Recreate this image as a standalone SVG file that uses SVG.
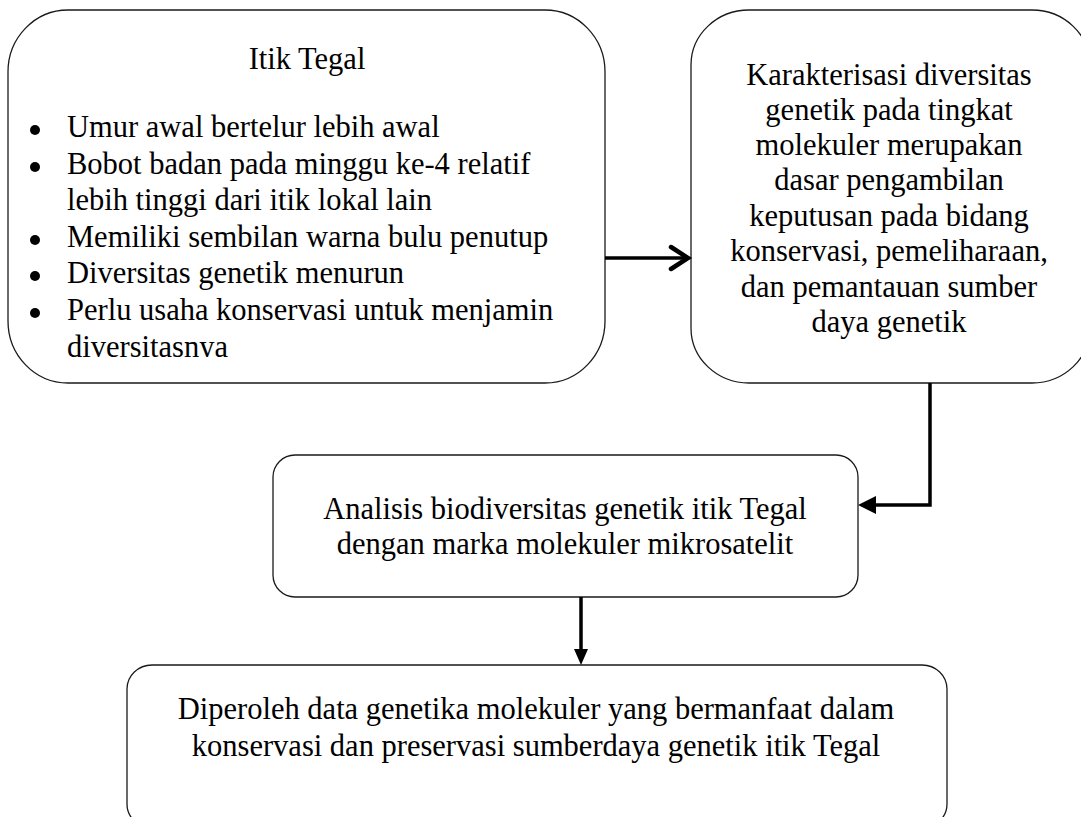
<svg xmlns="http://www.w3.org/2000/svg" width="1081" height="817" viewBox="0 0 1081 817">
<style>
.box{fill:#fff;stroke:#1a1a1a;stroke-width:1.3}
.t{font-family:"Liberation Serif","Times New Roman",serif;font-size:30.5px;fill:#000}
.c{text-anchor:middle}
.conn{fill:none;stroke:#000;stroke-width:3.5}
</style>
<defs>
<clipPath id="clip1"><rect x="8" y="10" width="597" height="347"/></clipPath>
</defs>
<g id="node-itik-tegal">
<rect class="box" x="8" y="10" width="597" height="373" rx="60" ry="62"/>
<g clip-path="url(#clip1)">
<text class="t c" x="307" y="69">Itik Tegal</text>
<g fill="#000">
<circle cx="35" cy="130" r="5"/>
<circle cx="35" cy="167" r="5"/>
<circle cx="35" cy="240" r="5"/>
<circle cx="35" cy="276" r="5"/>
<circle cx="35" cy="313" r="5"/>
</g>
<text class="t" x="67" y="137">Umur awal bertelur lebih awal</text>
<text class="t" x="67" y="174">Bobot badan pada minggu ke-4 relatif</text>
<text class="t" x="67" y="210">lebih tinggi dari itik lokal lain</text>
<text class="t" x="67" y="247">Memiliki sembilan warna bulu penutup</text>
<text class="t" x="67" y="283">Diversitas genetik menurun</text>
<text class="t" x="67" y="320">Perlu usaha konservasi untuk menjamin</text>
<text class="t" x="67" y="357">diversitasnya</text>
</g>
</g>
<g id="node-karakterisasi">
<rect class="box" x="691" y="10" width="399" height="373" rx="58" ry="55"/>
<text class="t c" x="889" y="85">Karakterisasi diversitas</text>
<text class="t c" x="889" y="120">genetik pada tingkat</text>
<text class="t c" x="889" y="155">molekuler merupakan</text>
<text class="t c" x="889" y="190">dasar pengambilan</text>
<text class="t c" x="889" y="226">keputusan pada bidang</text>
<text class="t c" x="889" y="261">konservasi, pemeliharaan,</text>
<text class="t c" x="889" y="297">dan pemantauan sumber</text>
<text class="t c" x="889" y="332">daya genetik</text>
</g>
<g id="node-analisis">
<rect class="box" x="273" y="455" width="585" height="142" rx="22" ry="22"/>
<text class="t c" x="565" y="519">Analisis biodiversitas genetik itik Tegal</text>
<text class="t c" x="565" y="554">dengan marka molekuler mikrosatelit</text>
</g>
<g id="node-diperoleh">
<rect class="box" x="127" y="665" width="820" height="163" rx="25" ry="24"/>
<text class="t c" x="536" y="719">Diperoleh data genetika molekuler yang bermanfaat dalam</text>
<text class="t c" x="536" y="756">konservasi dan preservasi sumberdaya genetik itik Tegal</text>
</g>
<g id="connectors">
<line class="conn" x1="605" y1="258" x2="688" y2="258"/>
<polyline points="671,247 688,258 671,269" fill="none" stroke="#000" stroke-width="4.5" stroke-linecap="round" stroke-linejoin="miter"/>
<polyline class="conn" points="930,383 930,505 875,505"/>
<path d="M858,505 L876,496 L876,514 Z" fill="#000"/>
<line class="conn" x1="581" y1="597" x2="581" y2="650"/>
<path d="M581,665 L574,649 L588,649 Z" fill="#000"/>
</g>
</svg>
